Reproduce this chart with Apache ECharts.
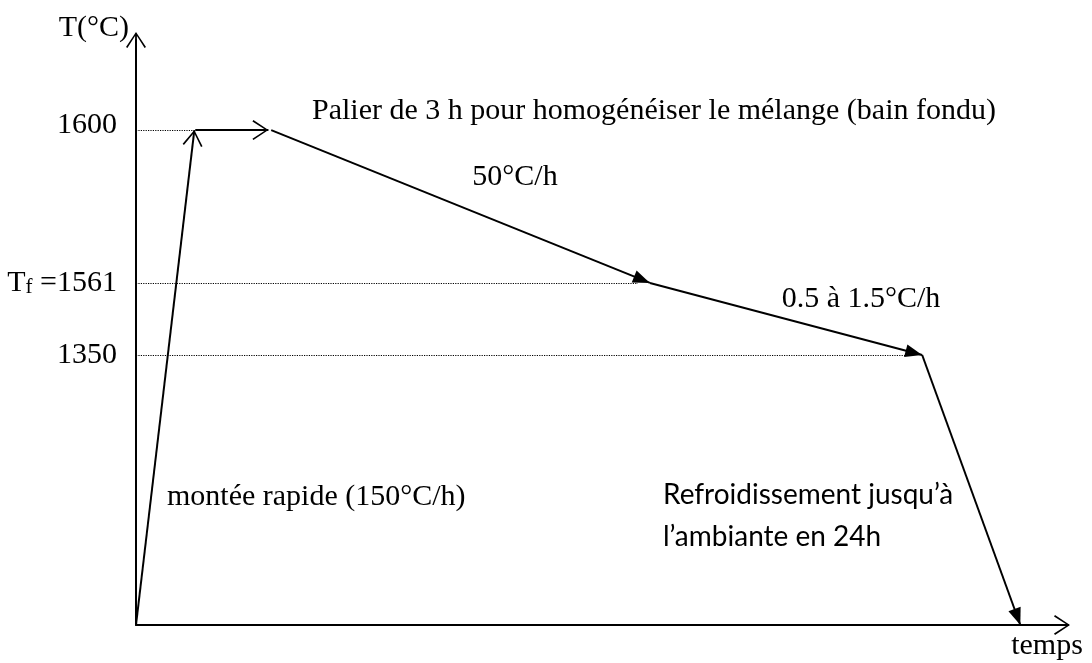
<!DOCTYPE html>
<html>
<head>
<meta charset="utf-8">
<title>Cycle thermique</title>
<script src="https://cdn.jsdelivr.net/npm/echarts@6.0.0/dist/echarts.min.js"></script>
<style>
  html, body { margin: 0; padding: 0; background: #fff; }
  #chart { width: 1092px; height: 663px; }
</style>
</head>
<body>
<div id="chart"></div>
<script>
// Thermal cycle: schematic time (arbitrary units) against temperature (°C).
// Each stage of the cycle is one arrow from its start point to its end point.
const stageStartTime = [0,    6.4,  14.6, 55.5, 84.9];
const stageEndTime   = [6.3,  14.3, 55.5, 84.9, 95.5];
const stageStartTemp = [0,    1600, 1600, 1561, 1350];
const stageEndTemp   = [1600, 1600, 1561, 1350, 0];

// Reference temperatures on the vertical axis and where their dotted guide stops.
const levelTemps    = [1600, 1561, 1350];
const levelGuideEnd = [6.2, 54.2, 83.3];

// Texts written next to the stages.
const stageNotes = [
  'Palier de 3 h pour homogénéiser le mélange (bain fondu)',
  '50°C/h',
  '0.5 à 1.5°C/h',
  'montée rapide (150°C/h)',
  'Refroidissement jusqu’à\nl’ambiante en 24h'
];

const SERIF = "'Liberation Serif', 'Times New Roman', serif";
const SANS = "Lato, 'Open Sans', sans-serif";

// Arrow heads. The tip sits at the centre of each square box so it lands on the end point.
const openHead   = 'path://M-16,0M16,0M0,16L10,31L8.6,32L0,18.6L-8.6,32L-10,31Z';
const filledHead = 'path://M-17,0M17,0M0,17L6.5,34L-6.5,34Z';
const axisHead   = 'path://M0,0L10,15L8.6,16L0,2.6L-8.6,16L-10,15ZM-0.9,1L0.9,1L0.9,16L-0.9,16Z';

function stageItems(indices) {
  return indices.map(i => ({
    coords: [[stageStartTime[i], stageStartTemp[i]], [stageEndTime[i], stageEndTemp[i]]]
  }));
}

// Tick label text: T with subscript f for the liquidus, the top level set slightly higher.
function levelLabel(v) {
  if (v === 1561) return '{t|T}{s|f}{t| =1561}';
  if (v === 1600) return '{u|1600}';
  return String(v);
}

const arrowAxisLine = {
  show: true,
  onZero: false,
  symbol: ['none', axisHead],
  symbolSize: [20, 17],
  lineStyle: { color: '#000', width: 2 }
};

const chart = echarts.init(document.getElementById('chart'), null, { renderer: 'canvas' });

chart.setOption({
  animation: false,
  backgroundColor: '#fff',
  grid: { left: 136, right: 30, top: 40, bottom: 38, outerBoundsMode: 'none' },
  xAxis: {
    type: 'value',
    min: 0,
    max: 100,
    name: 'temps',
    nameLocation: 'end',
    nameGap: -15,
    nameMoveOverlap: false,
    nameTextStyle: {
      fontFamily: SERIF, fontSize: 30, color: '#000',
      align: 'center', verticalAlign: 'top', padding: [6, 0, 0, 0]
    },
    axisLine: arrowAxisLine,
    axisTick: { show: false },
    axisLabel: { show: false },
    splitLine: { show: false }
  },
  yAxis: [
    {
      // temperature scale; not to scale: the long stretches between the
      // marked temperatures are compressed
      type: 'value',
      position: 'left',
      min: 0,
      max: 1623,
      breaks: [
        { start: 2, end: 1348, gap: 64.9 },
        { start: 1352, end: 1559, gap: 14.4 }
      ],
      breakArea: { show: false, itemStyle: { opacity: 0, borderWidth: 0 }, zigzagAmplitude: 0 },
      axisLine: { show: false },
      axisTick: { show: false },
      splitLine: { show: false },
      axisLabel: {
        show: true,
        customValues: levelTemps,
        margin: 19,
        fontFamily: SERIF,
        fontSize: 30,
        color: '#000',
        formatter: levelLabel,
        rich: {
          t: { fontFamily: SERIF, fontSize: 30, color: '#000' },
          s: { fontFamily: SERIF, fontSize: 21, color: '#000', padding: [10, 0, 0, 0] },
          u: { fontFamily: SERIF, fontSize: 30, color: '#000', padding: [0, 0, 10, 0] }
        }
      }
    },
    {
      // continuous axis line with its arrow and title
      type: 'value',
      position: 'left',
      min: 0,
      max: 1,
      name: 'T(°C)',
      nameLocation: 'end',
      nameGap: 12,
      nameMoveOverlap: false,
      nameTextStyle: {
        fontFamily: SERIF, fontSize: 30, color: '#000',
        align: 'right', verticalAlign: 'middle', padding: [0, 7, 0, 0]
      },
      axisLine: arrowAxisLine,
      axisTick: { show: false },
      axisLabel: { show: false },
      splitLine: { show: false }
    }
  ],
  series: [
    {
      // dotted guides from the temperature axis
      type: 'lines',
      coordinateSystem: 'cartesian2d',
      yAxisIndex: 0,
      silent: true,
      z: 1,
      symbol: 'none',
      lineStyle: { color: '#000', width: 1.2, type: [1.2, 1.2], opacity: 1 },
      data: levelTemps.map((t, i) => ({ coords: [[0, t], [levelGuideEnd[i], t]] }))
    },
    {
      // heating ramp and hold: open arrow heads
      type: 'lines',
      coordinateSystem: 'cartesian2d',
      yAxisIndex: 0,
      silent: true,
      z: 3,
      symbol: ['none', openHead],
      symbolSize: 32,
      lineStyle: { color: '#000', width: 2, opacity: 1 },
      data: stageItems([0, 1])
    },
    {
      // cooling stages: filled arrow heads
      type: 'lines',
      coordinateSystem: 'cartesian2d',
      yAxisIndex: 0,
      silent: true,
      z: 3,
      symbol: ['none', filledHead],
      symbolSize: 34,
      lineStyle: { color: '#000', width: 2, opacity: 1 },
      data: stageItems([2, 3, 4])
    }
  ],
  graphic: [
    { type: 'text', x: 312, y: 111, silent: true,
      style: { text: stageNotes[0], fontFamily: SERIF, fontSize: 30, fill: '#000', align: 'left', verticalAlign: 'middle' } },
    { type: 'text', x: 515, y: 177, silent: true,
      style: { text: stageNotes[1], fontFamily: SERIF, fontSize: 30, fill: '#000', align: 'center', verticalAlign: 'middle' } },
    { type: 'text', x: 861, y: 299, silent: true,
      style: { text: stageNotes[2], fontFamily: SERIF, fontSize: 30, fill: '#000', align: 'center', verticalAlign: 'middle' } },
    { type: 'text', x: 167, y: 497, silent: true,
      style: { text: stageNotes[3], fontFamily: SERIF, fontSize: 30, fill: '#000', align: 'left', verticalAlign: 'middle' } },
    { type: 'text', x: 663, y: 516, silent: true,
      style: { text: stageNotes[4], fontFamily: SANS, fontSize: 28, lineHeight: 42, fill: '#000', align: 'left', verticalAlign: 'middle' } }
  ]
});
</script>
</body>
</html>
